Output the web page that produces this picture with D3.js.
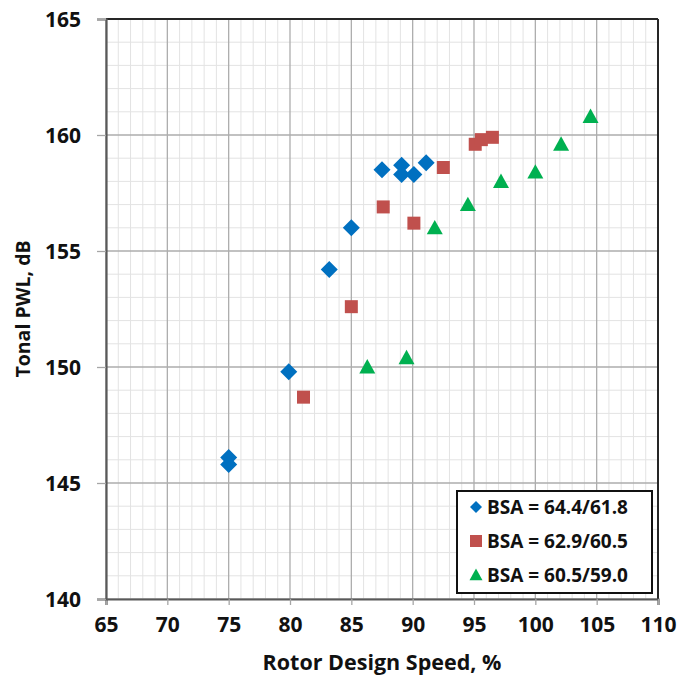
<!DOCTYPE html>
<html>
<head>
<meta charset="utf-8">
<script src="https://cdn.jsdelivr.net/npm/d3@7"></script>
<style>
  html, body { margin: 0; padding: 0; background: #fff; }
  svg { display: block; font-family: "Open Sans", "Liberation Sans", sans-serif; }
</style>
</head>
<body>
<svg id="chart" width="680" height="677"></svg>
<script>
// Tonal PWL versus rotor design speed, three blade solidity/aspect (BSA) builds
const seriesNames = ["BSA = 64.4/61.8", "BSA = 62.9/60.5", "BSA = 60.5/59.0"];
const seriesColors = ["#0070C0", "#C0504D", "#00B050"];
const seriesShapes = ["diamond", "square", "triangle"];

const bsa1Speed = [75, 75, 79.9, 83.2, 85, 87.5, 89.1, 89.1, 90.1, 91.1];
const bsa1Pwl   = [146.1, 145.8, 149.8, 154.2, 156.0, 158.5, 158.7, 158.3, 158.3, 158.8];

const bsa2Speed = [81.1, 85.0, 87.6, 90.1, 92.5, 95.1, 95.6, 96.5];
const bsa2Pwl   = [148.7, 152.6, 156.9, 156.2, 158.6, 159.6, 159.8, 159.9];

const bsa3Speed = [86.3, 89.5, 91.8, 94.5, 97.2, 100.0, 102.1, 104.5];
const bsa3Pwl   = [150.0, 150.4, 156.0, 157.0, 158.0, 158.4, 159.6, 160.8];

const xTicks = [65, 70, 75, 80, 85, 90, 95, 100, 105, 110];
const yTicks = [140, 145, 150, 155, 160, 165];

const speeds = [bsa1Speed, bsa2Speed, bsa3Speed];
const pwls = [bsa1Pwl, bsa2Pwl, bsa3Pwl];
const series = seriesNames.map((name, i) => ({
  name, color: seriesColors[i], shape: seriesShapes[i],
  points: speeds[i].map((s, j) => ({ x: s, y: pwls[i][j] }))
}));

const svg = d3.select("#chart");
const plot = { left: 106, right: 658, top: 19, bottom: 599 };

const x = d3.scaleLinear().domain([65, 110]).range([plot.left, plot.right]);
const y = d3.scaleLinear().domain([140, 165]).range([plot.bottom, plot.top]);

const fontStack = "'Open Sans', 'Liberation Sans', sans-serif";
const textColor = "#111";

// minor grid (every 1 unit)
const g = svg.append("g");
g.selectAll("line.minx").data(d3.range(65, 111, 1).filter(v => v % 5 !== 0)).join("line")
  .attr("x1", d => x(d)).attr("x2", d => x(d))
  .attr("y1", plot.top).attr("y2", plot.bottom)
  .attr("stroke", "#e3e3e3").attr("stroke-width", 1);
g.selectAll("line.miny").data(d3.range(140, 166, 1).filter(v => v % 5 !== 0)).join("line")
  .attr("x1", plot.left).attr("x2", plot.right)
  .attr("y1", d => y(d)).attr("y2", d => y(d))
  .attr("stroke", "#e3e3e3").attr("stroke-width", 1);

// major grid
g.append("g").selectAll("line").data(xTicks).join("line")
  .attr("x1", d => x(d)).attr("x2", d => x(d))
  .attr("y1", plot.top).attr("y2", plot.bottom)
  .attr("stroke", "#adadad").attr("stroke-width", 1.3);
g.append("g").selectAll("line").data(yTicks).join("line")
  .attr("x1", plot.left).attr("x2", plot.right)
  .attr("y1", d => y(d)).attr("y2", d => y(d))
  .attr("stroke", "#adadad").attr("stroke-width", 1.3);

// frame: top and right in black, axes in dark grey
svg.append("line").attr("x1", plot.left).attr("x2", plot.right).attr("y1", plot.top).attr("y2", plot.top)
  .attr("stroke", "#262626").attr("stroke-width", 2);
svg.append("line").attr("x1", plot.right).attr("x2", plot.right).attr("y1", plot.top).attr("y2", plot.bottom)
  .attr("stroke", "#262626").attr("stroke-width", 2);

// axes
const xAxis = d3.axisBottom(x).tickValues(xTicks).tickSize(6).tickPadding(12).tickFormat(d3.format("d"));
const yAxis = d3.axisLeft(y).tickValues(yTicks).tickSize(9).tickPadding(16).tickFormat(d3.format("d"));

const gx = svg.append("g").attr("transform", `translate(0,${plot.bottom})`).call(xAxis);
const gy = svg.append("g").attr("transform", `translate(${plot.left},0)`).call(yAxis);
[gx, gy].forEach(a => {
  a.select(".domain").attr("stroke", "#595959").attr("stroke-width", 2.2);
  a.selectAll(".tick line").attr("stroke", "#a6a6a6").attr("stroke-width", 1.3);
  a.selectAll(".tick text").attr("fill", textColor)
    .style("font-family", fontStack)
    .style("font-size", "21px").style("font-weight", "bold");
});
gy.selectAll(".tick text").attr("dy", "0.36em").attr("x", -25);

// axis titles
svg.append("text")
  .attr("x", (plot.left + plot.right) / 2).attr("y", 670)
  .attr("text-anchor", "middle")
  .attr("fill", textColor)
  .style("font-size", "21.5px").style("font-weight", "bold")
  .text("Rotor Design Speed, %");
svg.append("text")
  .attr("transform", `translate(30,${(plot.top + plot.bottom) / 2}) rotate(-90)`)
  .attr("text-anchor", "middle")
  .attr("fill", textColor)
  .style("font-size", "19.5px").style("font-weight", "bold")
  .text("Tonal PWL, dB");

// marker shapes
function markerPath(shape, s) {
  if (shape === "diamond") return `M0,${-s}L${s},0L0,${s}L${-s},0Z`;
  if (shape === "square") return `M${-s},${-s}H${s}V${s}H${-s}Z`;
  // triangle centred on the point
  const h = s * 1.8;
  return `M0,${-h * 0.55}L${s},${h * 0.45}L${-s},${h * 0.45}Z`;
}
const markerSize = { diamond: 8.5, square: 6.5, triangle: 8 };

series.forEach(sr => {
  svg.append("g").selectAll("path").data(sr.points).join("path")
    .attr("transform", d => `translate(${x(d.x)},${y(d.y)})`)
    .attr("d", markerPath(sr.shape, markerSize[sr.shape]))
    .attr("fill", sr.color);
});

// legend
const lg = svg.append("g");
lg.append("rect").attr("x", 457).attr("y", 491).attr("width", 195).attr("height", 102)
  .attr("fill", "#fff").attr("stroke", "#111").attr("stroke-width", 2);
const legendY = d3.scalePoint().domain(seriesNames).range([507, 575]);
const legendSize = { diamond: 6, square: 6, triangle: 6.5 };
series.forEach(sr => {
  const cy = legendY(sr.name);
  lg.append("path")
    .attr("transform", `translate(476,${cy})`)
    .attr("d", markerPath(sr.shape, legendSize[sr.shape]))
    .attr("fill", sr.color);
  lg.append("text").attr("x", 487).attr("y", cy).attr("dy", "0.36em")
    .attr("fill", textColor)
    .style("font-size", "19px").style("font-weight", "bold")
    .text(sr.name);
});
</script>
</body>
</html>
